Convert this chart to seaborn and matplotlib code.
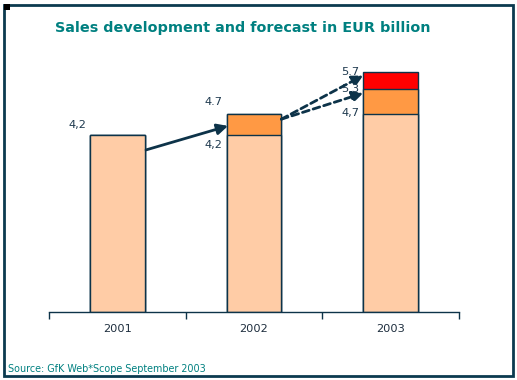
import matplotlib
matplotlib.use('Agg')
import matplotlib.pyplot as plt
from matplotlib.patches import Rectangle
import seaborn as sns

# chart data
years = ['2001', '2002', '2003']
base = [4.2, 4.2, 4.7]        # realised sales
mid = [4.2, 4.7, 5.3]         # cumulative: low forecast
top = [4.2, 4.7, 5.7]         # cumulative: high forecast
label_text = ['4,2', '4.7', '4,2', '5.7', '5.3', '4,7']
label_x = [0, 1, 1, 2, 2, 2]
label_y = [4.2, 4.7, 4.2, 5.7, 5.3, 4.7]

NAVY = '#0d3349'
TEAL = '#008080'
BAR_W = 0.4

sns.set_style('white')
plt.rcParams['font.family'] = ['DejaVu Sans']

fig = plt.figure(figsize=(5.17, 3.80), dpi=100)
ax = fig.add_axes([49 / 517, 68 / 380, 410 / 517, 252.6 / 380])

# layered bars: tallest first, then cover with lower segments
for vals, col in [(top, '#ff0000'), (mid, '#ff9944'), (base, '#ffcca6')]:
    sns.barplot(x=years, y=vals, color=col, width=BAR_W, saturation=1,
                edgecolor=NAVY, linewidth=1.0, ax=ax)

ax.set_xlim(-0.5, 2.5)
ax.set_ylim(0, 6.0)
ax.set_yticks([])
for s in ['left', 'right', 'top']:
    ax.spines[s].set_visible(False)
ax.spines['bottom'].set_color(NAVY)
ax.spines['bottom'].set_linewidth(1.0)
ax.set_xticks(range(len(years)))
ax.set_xticklabels(years, fontsize=8.2, color='#1f2f3f')
ax.tick_params(axis='x', which='major', bottom=True, length=0, pad=9)
ax.set_xticks([-0.5, 0.5, 1.5, 2.5], minor=True)
ax.tick_params(axis='x', which='minor', bottom=True, direction='out',
               length=5, color=NAVY, width=1)

# value labels placed left of the bars
offsets = [0.24, 0.28, -0.24, 0.0, 0.0, 0.02]
for t, xi, yi, dy in zip(label_text, label_x, label_y, offsets):
    ax.text(xi - BAR_W / 2 - 0.03, yi + dy, t, ha='right', va='center',
            fontsize=8.2, color='#1f3a4f')

# growth arrows
half = BAR_W / 2
ax.annotate('', xy=(1 - half + 0.01, (base[1] + mid[1]) / 2 - 0.03),
            xytext=(half + 0.01, base[0] - 0.35),
            arrowprops=dict(arrowstyle='-|>', color=NAVY, lw=2,
                            mutation_scale=16, shrinkA=0, shrinkB=0))
for yt in [top[2] - 0.08, mid[2] - 0.1]:
    ax.annotate('', xy=(2 - half, yt), xytext=(1 + half, mid[1] - 0.12),
                arrowprops=dict(arrowstyle='-|>', color=NAVY, lw=2,
                                linestyle=(0, (2.5, 1.5)), mutation_scale=16,
                                shrinkA=0, shrinkB=0))

fig.text(243 / 517, 1 - 28 / 380, 'Sales development and forecast in EUR billion',
         ha='center', va='center', fontsize=10.4, fontweight='bold', color=TEAL)
fig.text(8 / 517, 1 - 369 / 380, 'Source: GfK Web*Scope September 2003',
         ha='left', va='center', fontsize=6.9, color=TEAL)

# outer frame and corner marker
fig.patches.append(Rectangle((4 / 517, 4 / 380), 509 / 517, 371 / 380,
                             transform=fig.transFigure, fill=False,
                             edgecolor='#0b3a4f', linewidth=2))
fig.patches.append(Rectangle((4 / 517, 1 - 10 / 380), 6 / 517, 6 / 380,
                             transform=fig.transFigure, facecolor='black',
                             edgecolor='none'))

fig.savefig('out.png', dpi=100)
